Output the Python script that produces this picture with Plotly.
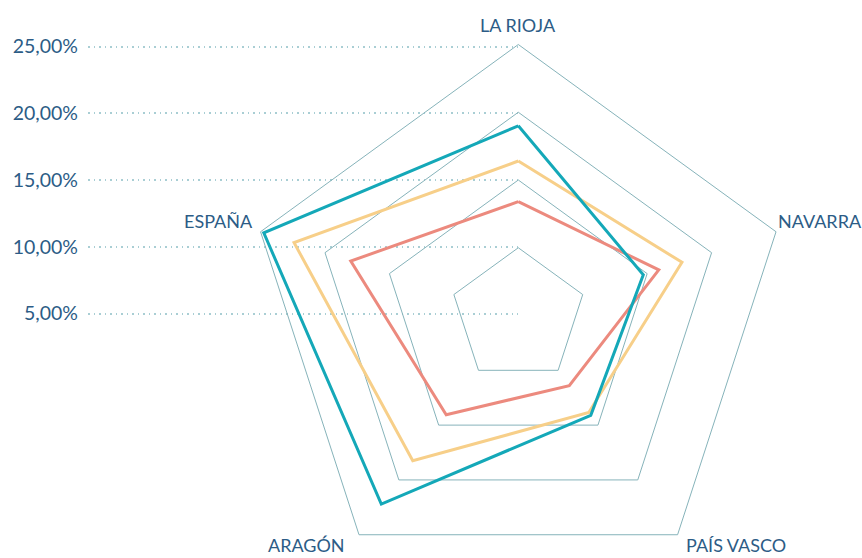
import math
import plotly.graph_objects as go

# Categorías (vértices del radar, en sentido horario desde arriba)
categorias = ["LA RIOJA", "NAVARRA", "PAÍS VASCO", "ARAGÓN", "ESPAÑA"]

# Porcentajes de cada serie por categoría
serie_turquesa = [19.0, 14.7, 14.1, 22.2, 24.75]
serie_amarilla = [16.4, 17.7, 13.85, 18.25, 22.4]
serie_salmon = [13.4, 15.9, 11.4, 14.05, 18.0]

# Anillos de la rejilla y marcas del eje radial
anillos = [10, 15, 20, 25]
marcas_radiales = [5, 10, 15, 20, 25]
rango_radial = [5, 25]
etiquetas_radiales = [f"{v:.2f}".replace(".", ",") + "%" for v in marcas_radiales]

# Colores
TURQUESA = "#14a8b8"
AMARILLO = "#f7cf89"
SALMON = "#ec8a7e"
REJILLA = "#86b3ba"
PUNTEADO = "#a9ced4"
TEXTO = "#2c5c86"
FUENTE = "Lato"

# Geometría de la figura (píxeles)
W, H = 862, 558
CX, CY, R = 518.3, 315.5, 271.0
X_INICIO_PUNTEADO = 88

n = len(categorias)
paso = 360 / n
# Sector que omite la cuña inferior para que el pentágono ocupe todo el alto
sector = [90 - 2 * paso, 90 + 2 * paso]
fondo = R * math.sin(math.radians(2 * paso - 90))

# Desplazamiento (px) y alineación de cada rótulo respecto a su vértice exterior
colocacion_rotulos = [
    (0, -19.5, "center"),
    (0, -11, "left"),
    (6, 10.5, "left"),
    (-12, 10.5, "right"),
    (-5.5, -11, "right"),
]


def cerrar(v):
    return list(v) + [v[0]]


theta = cerrar(categorias)

fig = go.Figure()

for nivel in anillos:
    fig.add_trace(go.Scatterpolar(
        r=[nivel] * (n + 1), theta=theta, mode="lines",
        line=dict(color=REJILLA, width=1),
        hoverinfo="skip", showlegend=False, cliponaxis=False,
    ))

for valores, color in [(serie_salmon, SALMON), (serie_amarilla, AMARILLO),
                       (serie_turquesa, TURQUESA)]:
    fig.add_trace(go.Scatterpolar(
        r=cerrar(valores), theta=theta, mode="lines",
        line=dict(color=color, width=3),
        showlegend=False, cliponaxis=False,
    ))

# Eje cartesiano auxiliar para las etiquetas y líneas punteadas de la izquierda
fig.add_trace(go.Scatter(
    x=[0.5] * len(marcas_radiales), y=marcas_radiales, mode="markers",
    marker=dict(opacity=0), hoverinfo="skip", showlegend=False,
))

# Rótulos de categoría junto a los vértices del anillo exterior
anotaciones = []
for i, (nombre, (dx, dy, alin)) in enumerate(zip(categorias, colocacion_rotulos)):
    ang = math.radians(90 - i * paso)
    vx = CX + R * math.cos(ang) + dx
    vy = CY - R * math.sin(ang) + dy
    anotaciones.append(dict(
        text=nombre, x=vx / W, y=1 - vy / H, xref="paper", yref="paper",
        xanchor=alin, yanchor="middle", showarrow=False,
        font=dict(family=FUENTE, size=18, color=TEXTO),
    ))

fig.update_layout(
    template="none",
    width=W, height=H,
    margin=dict(l=0, r=0, t=0, b=0, pad=0),
    paper_bgcolor="white", plot_bgcolor="rgba(0,0,0,0)",
    font=dict(family=FUENTE, color=TEXTO),
    showlegend=False,
    annotations=anotaciones,
    polar=dict(
        domain=dict(x=[(CX - R) / W, (CX + R) / W],
                    y=[1 - (CY + fondo) / H, 1 - (CY - R) / H]),
        sector=sector,
        gridshape="linear",
        bgcolor="rgba(0,0,0,0)",
        radialaxis=dict(range=rango_radial, visible=False),
        angularaxis=dict(
            type="category", categoryarray=categorias,
            direction="clockwise", rotation=90,
            showgrid=False, showline=False, ticks="",
            showticklabels=False,
        ),
    ),
    xaxis=dict(domain=[X_INICIO_PUNTEADO / W, CX / W], range=[0, 1],
               visible=False, fixedrange=True, automargin=False),
    yaxis=dict(
        domain=[1 - CY / H, 1 - (CY - R) / H],
        range=[rango_radial[0] - 0.15, rango_radial[1] + 0.15],
        tickvals=marcas_radiales, ticktext=etiquetas_radiales,
        showgrid=True, gridcolor=PUNTEADO, gridwidth=1.6,
        griddash="1.6px,3.9px",
        zeroline=False, showline=False, ticks="",
        ticklabelstandoff=9, automargin=False,
        tickfont=dict(family=FUENTE, size=19.5, color=TEXTO),
        fixedrange=True,
    ),
)

# Las líneas del pentágono cruzan la cuña inferior fuera del sector: sin recorte
sin_recorte = (
    "document.querySelectorAll('.polarlayer [clip-path]')"
    ".forEach(function(el){el.removeAttribute('clip-path');});"
)

fig.write_html("out.html", post_script=sin_recorte)
